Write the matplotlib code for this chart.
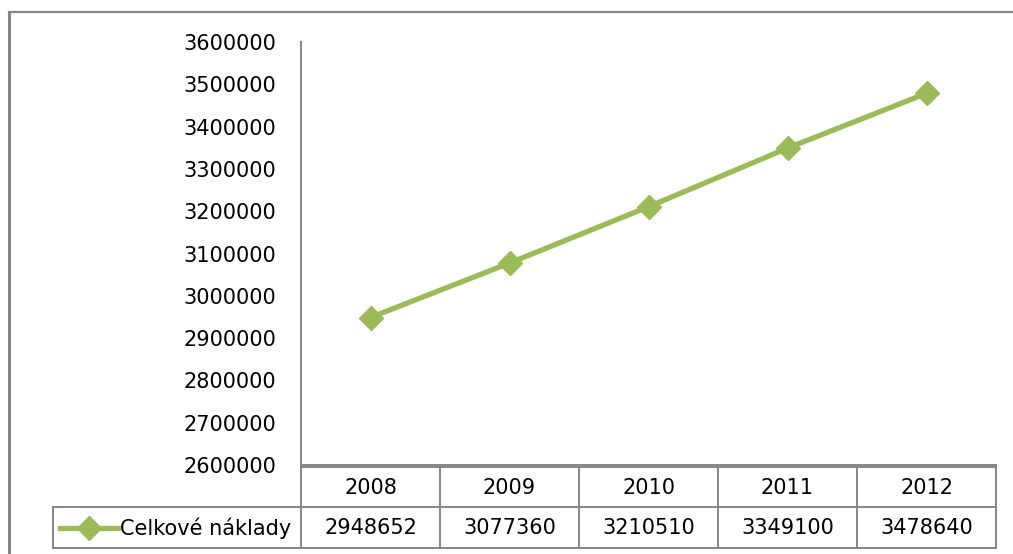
import matplotlib
matplotlib.use("Agg")
import matplotlib.pyplot as plt
from matplotlib.lines import Line2D
import matplotlib.transforms as mtransforms

years = ["2008", "2009", "2010", "2011", "2012"]
values = [2948652, 3077360, 3210510, 3349100, 3478640]
series_name = "Celkové náklady"
y_ticks = [2600000, 2700000, 2800000, 2900000, 3000000, 3100000, 3200000,
           3300000, 3400000, 3500000, 3600000]

W, H = 1013, 554
color = "#9BBB59"
grid_c = "#868686"
fs = 15
plt.rcParams['font.family'] = ['DejaVu Sans']

fig = plt.figure(figsize=(W / 100, H / 100), dpi=100)
fig.patch.set_facecolor("white")

def fx(px):
    return px / W

def fy(py):
    return 1 - py / H

ax_l, ax_r, ax_t, ax_b = 301, 996, 42, 465
ax = fig.add_axes([fx(ax_l), fy(ax_b), fx(ax_r - ax_l), (ax_b - ax_t) / H])
x = list(range(len(years)))
ax.plot(x, values, color=color, lw=3.8, marker="D", markersize=12,
        markeredgecolor=color, markerfacecolor=color, solid_capstyle="round")
ax.set_xlim(-0.5, len(years) - 0.5)
ax.set_ylim(y_ticks[0], y_ticks[-1])
ax.set_yticks(y_ticks)
ax.set_yticklabels([str(v) for v in y_ticks], fontsize=fs)
ax.tick_params(axis="y", length=0, pad=18)
ax.set_xticks([])
for s in ["top", "right"]:
    ax.spines[s].set_visible(False)
ax.spines["left"].set_color(grid_c)
ax.spines["left"].set_linewidth(1.4)
ax.spines["bottom"].set_color(grid_c)
ax.spines["bottom"].set_linewidth(1.4)

# outer chart border (extends off the right/bottom)
fig.add_artist(Line2D([fx(9), fx(9)], [fy(12), fy(560)], color=grid_c, lw=2.2))
fig.add_artist(Line2D([fx(9), fx(1020)], [fy(12), fy(12)], color=grid_c, lw=1.6))

# data table
t_top, t_mid, t_bot = 467, 507, 548
leg_l = 53
lw = 1.4
fig.add_artist(Line2D([fx(ax_l), fx(ax_r)], [fy(t_top), fy(t_top)], color=grid_c, lw=lw))
fig.add_artist(Line2D([fx(leg_l), fx(ax_r)], [fy(t_mid), fy(t_mid)], color=grid_c, lw=lw))
fig.add_artist(Line2D([fx(leg_l), fx(ax_r)], [fy(t_bot), fy(t_bot)], color=grid_c, lw=lw))
fig.add_artist(Line2D([fx(leg_l), fx(leg_l)], [fy(t_mid), fy(t_bot)], color=grid_c, lw=lw))
fig.add_artist(Line2D([fx(ax_l), fx(ax_l)], [fy(ax_b), fy(t_bot)], color=grid_c, lw=lw))

trans = mtransforms.blended_transform_factory(ax.transData, fig.transFigure)
for i, (yr, v) in enumerate(zip(years, values)):
    xe = i + 0.5
    fig.add_artist(Line2D([xe, xe], [fy(t_top), fy(t_bot)], color=grid_c, lw=lw,
                          transform=trans))
    fig.text(i, fy((t_top + t_mid) / 2 + 1), yr, transform=trans, ha="center",
             va="center", fontsize=fs)
    fig.text(i, fy((t_mid + t_bot) / 2 + 1), str(v), transform=trans, ha="center",
             va="center", fontsize=fs)

# legend key
ky = fy((t_mid + t_bot) / 2)
fig.add_artist(Line2D([fx(60), fx(118)], [ky, ky], color=color, lw=3.8))
fig.add_artist(Line2D([fx(89)], [ky], color=color, marker="D", markersize=12,
                      markerfacecolor=color, markeredgecolor=color, lw=0))
fig.text(fx(120), fy((t_mid + t_bot) / 2 + 1), series_name, ha="left", va="center",
         fontsize=fs)

fig.savefig("out.png", dpi=100, facecolor="white")
